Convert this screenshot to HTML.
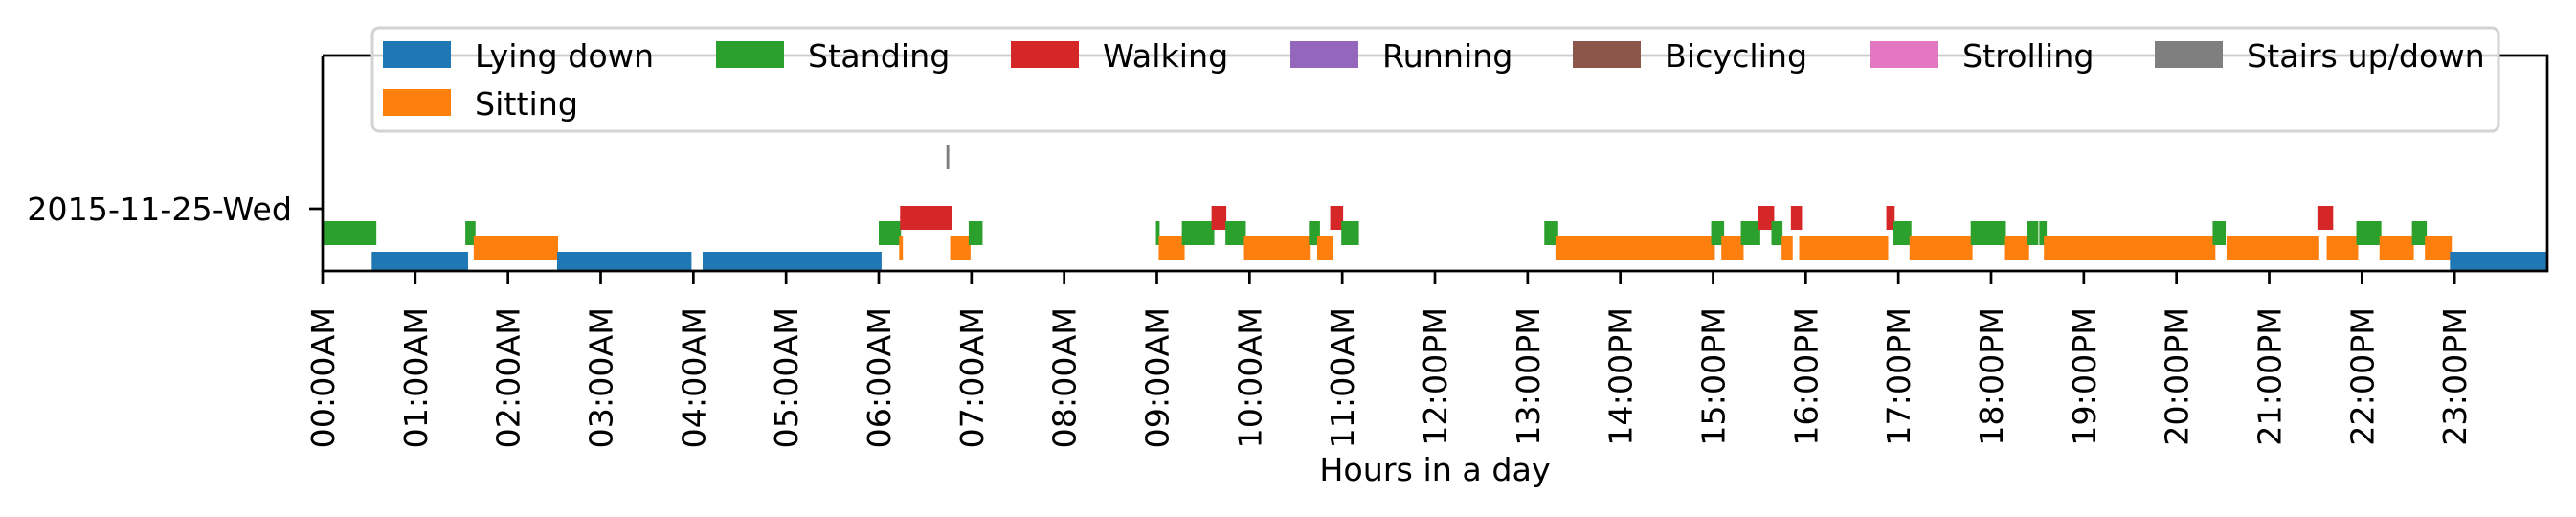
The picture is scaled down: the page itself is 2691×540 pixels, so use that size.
<!DOCTYPE html>
<html><head><meta charset="utf-8"><style>
html,body{margin:0;padding:0;background:#fff;}
svg{display:block;font-family:"DejaVu Sans","Liberation Sans",sans-serif;}
</style></head><body>
<svg id="chart" width="2691" height="540" viewBox="0 0 2691 540" xmlns="http://www.w3.org/2000/svg">
<defs><clipPath id="plotclip"><rect x="337" y="58" width="2324" height="225"/></clipPath></defs>
<g id="bars" clip-path="url(#plotclip)"></g>
<g id="axes"></g>
<g id="legend"></g>
</svg>
<script>
const activities = ["Lying down","Sitting","Standing","Walking","Running","Bicycling","Strolling","Stairs up/down"];
const colors = ["#1f77b4","#ff7f0e","#2ca02c","#d62728","#9467bd","#8c564b","#e377c2","#7f7f7f"];
const levelOf = [0,1,2,3,4,5,6,7];
const segActivity = [2,0,2,1,0,0,2,3,1,1,2,7,2,1,2,3,2,1,2,1,3,2,2,1,2,1,2,3,2,1,3,1,3,2,1,2,1,2,2,1,2,1,3,1,2,1,2,1,0];
const segStart = [0,0.53,1.54,1.63,2.53,4.10,6.0,6.23,6.22,6.77,6.97,6.73,8.99,9.02,9.27,9.59,9.74,9.94,10.64,10.73,10.87,10.99,13.18,13.30,14.98,15.09,15.30,15.49,15.63,15.74,15.84,15.93,16.87,16.94,17.12,17.78,18.14,18.39,18.52,18.57,20.39,20.54,21.52,21.62,21.94,22.19,22.54,22.68,22.95];
const segEnd = [0.58,1.57,1.65,2.54,3.98,6.03,6.24,6.79,6.26,6.99,7.12,6.76,9.03,9.30,9.62,9.75,9.96,10.66,10.76,10.90,11.01,11.18,13.33,15.02,15.12,15.33,15.51,15.66,15.75,15.86,15.96,16.89,16.96,17.14,17.80,18.16,18.41,18.51,18.60,20.42,20.53,21.54,21.69,21.96,22.21,22.56,22.70,22.97,24.0];
const hourTicks = [0,1,2,3,4,5,6,7,8,9,10,11,12,13,14,15,16,17,18,19,20,21,22,23];
const hourLabels = ["00:00AM","01:00AM","02:00AM","03:00AM","04:00AM","05:00AM","06:00AM","07:00AM","08:00AM","09:00AM","10:00AM","11:00AM","12:00PM","13:00PM","14:00PM","15:00PM","16:00PM","17:00PM","18:00PM","19:00PM","20:00PM","21:00PM","22:00PM","23:00PM"];
const dayLabels = ["2015-11-25-Wed"];

const NS="http://www.w3.org/2000/svg";
const X0=337,X1=2661,Y0=58,Y1=283;
function xScale(h){return X0+(h/24)*(X1-X0);}
function levelY(l){return 275.5-16*l;}
function mk(tag,attrs,parent){const e=document.createElementNS(NS,tag);for(const k in attrs)e.setAttribute(k,attrs[k]);parent.appendChild(e);return e;}

const bars=document.getElementById('bars');
for(let i=0;i<segStart.length;i++){
  const a=segActivity[i];
  const x=xScale(segStart[i]),w=Math.max(2,xScale(segEnd[i])-x);
  const r=mk('rect',{x:x,y:levelY(levelOf[a])-12.5,width:w,height:25,fill:colors[a]},bars);
  
  
}

const axes=document.getElementById('axes');
const sp=mk('path',{d:`M${X0} ${Y0}V${Y1}H${X1}V${Y0}H${X0}`,fill:'none',stroke:'#000','stroke-width':2.7},axes);


hourTicks.forEach((h,i)=>{
  const x=xScale(h);
  const t=mk('line',{x1:x,y1:Y1,x2:x,y2:Y1+14,stroke:'#000','stroke-width':2.7},axes);
  
  
  const tx=mk('text',{x:0,y:0,'font-size':33.3,'text-anchor':'end',transform:`translate(${x+12},321) rotate(-90)`},axes);
  tx.textContent=hourLabels[i];
  
  
});
const yt=mk('line',{x1:X0-14,y1:218,x2:X0,y2:218,stroke:'#000','stroke-width':2.7},axes);


const yl=mk('text',{x:305,y:230,'font-size':33.3,'text-anchor':'end'},axes);
yl.textContent=dayLabels[0];


const xt=mk('text',{x:(X0+X1)/2,y:502,'font-size':33.3,'text-anchor':'middle'},axes);
xt.textContent="Hours in a day";



const lg=document.getElementById('legend');
const box=mk('rect',{x:389,y:29,width:2221,height:108,rx:7,fill:'rgba(255,255,255,0.8)',stroke:'#d3d3d3','stroke-width':3},lg);


const colX=[400,748,1056,1348,1643,1954,2251];
activities.forEach((name,i)=>{
  const col=i<=1?0:i-1;
  const row=i===1?1:0;
  const hx=colX[col],hy=row?93:43;
  const g=mk('g',{},lg);
  
  
  mk('rect',{x:hx,y:hy,width:71,height:28,fill:colors[i]},g);
  const t=mk('text',{x:hx+96,y:hy+27,'font-size':33.3},g);
  t.textContent=name;
});
</script>
</body></html>
